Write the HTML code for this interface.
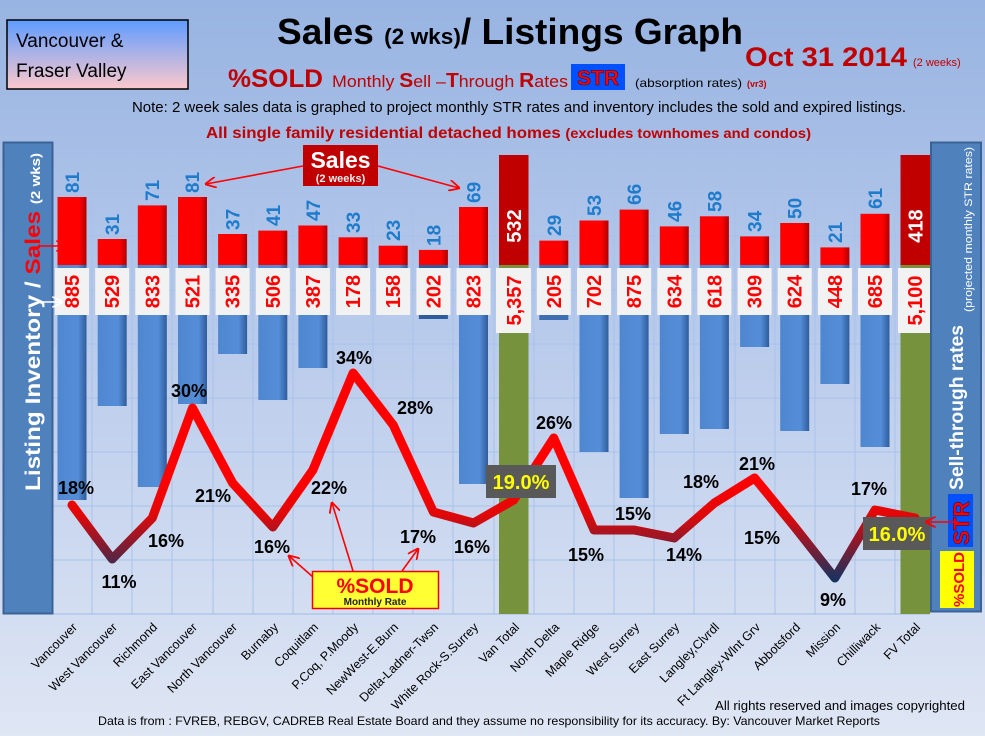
<!DOCTYPE html>
<html><head><meta charset="utf-8"><style>
html,body{margin:0;padding:0;}
body{width:985px;height:736px;overflow:hidden;}
svg{display:block;}
text{font-family:"Liberation Sans",sans-serif;}
</style></head><body>
<svg width="985" height="736" viewBox="0 0 985 736" xmlns="http://www.w3.org/2000/svg">
<defs>
<linearGradient id="bg" x1="0" y1="0" x2="0" y2="1">
<stop offset="0" stop-color="#98b4e2"/><stop offset="0.5" stop-color="#bccdec"/><stop offset="1" stop-color="#dfe6f4"/>
</linearGradient>
<linearGradient id="tl" x1="0" y1="0" x2="0" y2="1">
<stop offset="0" stop-color="#5f9cff"/><stop offset="1" stop-color="#fcc8cc"/>
</linearGradient>
<linearGradient id="blue" x1="0" y1="0" x2="1" y2="0">
<stop offset="0" stop-color="#4f86d0"/><stop offset="0.7" stop-color="#558ed8"/><stop offset="1" stop-color="#2f5c9c"/>
</linearGradient>
<linearGradient id="red" x1="0" y1="0" x2="1" y2="0">
<stop offset="0" stop-color="#ff0000"/><stop offset="0.75" stop-color="#ff0000"/><stop offset="1" stop-color="#b00000"/>
</linearGradient>
<linearGradient id="ln" gradientUnits="userSpaceOnUse" x1="0" y1="480" x2="0" y2="580">
<stop offset="0" stop-color="#ff0000"/><stop offset="0.35" stop-color="#e00808"/><stop offset="1" stop-color="#17325f"/>
</linearGradient>
<marker id="ar" viewBox="0 0 10 10" refX="9" refY="5" markerWidth="7" markerHeight="7" orient="auto"><path d="M0,0 L10,5 L0,10" fill="none" stroke="#f00" stroke-width="1.6"/></marker>
<marker id="aw" viewBox="0 0 10 10" refX="9" refY="5" markerWidth="7" markerHeight="7" orient="auto"><path d="M0,0 L10,5 L0,10" fill="none" stroke="#fff" stroke-width="1.6"/></marker>
</defs>
<rect width="985" height="736" fill="url(#bg)"/>

<!-- grid -->
<g stroke="#a8c2ea" stroke-width="1">
<line x1="52" y1="182" x2="930" y2="182"/><line x1="52" y1="236" x2="930" y2="236"/><line x1="52" y1="290" x2="930" y2="290"/><line x1="52" y1="344" x2="930" y2="344"/><line x1="52" y1="398" x2="930" y2="398"/><line x1="52" y1="452" x2="930" y2="452"/><line x1="52" y1="506" x2="930" y2="506"/><line x1="52" y1="560" x2="930" y2="560"/>
<line x1="92" y1="150" x2="92" y2="614"/><line x1="132" y1="150" x2="132" y2="614"/><line x1="172" y1="150" x2="172" y2="614"/><line x1="213" y1="150" x2="213" y2="614"/><line x1="253" y1="150" x2="253" y2="614"/><line x1="293" y1="150" x2="293" y2="614"/><line x1="333" y1="150" x2="333" y2="614"/><line x1="373" y1="150" x2="373" y2="614"/><line x1="413" y1="150" x2="413" y2="614"/><line x1="453" y1="150" x2="453" y2="614"/><line x1="494" y1="150" x2="494" y2="614"/><line x1="534" y1="150" x2="534" y2="614"/><line x1="574" y1="150" x2="574" y2="614"/><line x1="614" y1="150" x2="614" y2="614"/><line x1="654" y1="150" x2="654" y2="614"/><line x1="694" y1="150" x2="694" y2="614"/><line x1="735" y1="150" x2="735" y2="614"/><line x1="775" y1="150" x2="775" y2="614"/><line x1="815" y1="150" x2="815" y2="614"/><line x1="855" y1="150" x2="855" y2="614"/><line x1="895" y1="150" x2="895" y2="614"/>
<line x1="52" y1="614" x2="930" y2="614" stroke="#9fbbe6"/>
</g>

<!-- blue bars -->
<g fill="url(#blue)">
<rect x="57.5" y="265" width="29" height="235"/>
<rect x="97.7" y="265" width="29" height="141"/>
<rect x="137.8" y="265" width="29" height="222"/>
<rect x="178" y="265" width="29" height="139"/>
<rect x="218.1" y="265" width="29" height="89"/>
<rect x="258.3" y="265" width="29" height="135"/>
<rect x="298.4" y="265" width="29" height="103"/>
<rect x="338.6" y="265" width="29" height="47"/>
<rect x="378.7" y="265" width="29" height="42"/>
<rect x="418.9" y="265" width="29" height="54" fill="#2f5c9c"/>
<rect x="459" y="265" width="29" height="219"/>
<rect x="539.3" y="265" width="29" height="55" fill="#3d6fb2"/>
<rect x="579.5" y="265" width="29" height="187"/>
<rect x="619.6" y="265" width="29" height="233"/>
<rect x="659.8" y="265" width="29" height="169"/>
<rect x="699.9" y="265" width="29" height="164"/>
<rect x="740.1" y="265" width="29" height="82"/>
<rect x="780.2" y="265" width="29" height="166"/>
<rect x="820.4" y="265" width="29" height="119"/>
<rect x="860.5" y="265" width="29" height="182"/>
</g>
<!-- totals -->
<rect x="499" y="265" width="29.5" height="349" fill="#76923c"/>
<rect x="499" y="155" width="29.5" height="110" fill="#c00000"/>
<rect x="900.5" y="265" width="29.5" height="349" fill="#76923c"/>
<rect x="900.5" y="155" width="29.5" height="110" fill="#c00000"/>

<!-- red bars -->
<g fill="url(#red)">
<rect x="57.5" y="197" width="29" height="68"/>
<rect x="97.7" y="239" width="29" height="26"/>
<rect x="137.8" y="205.4" width="29" height="59.6"/>
<rect x="178" y="197" width="29" height="68"/>
<rect x="218.1" y="234" width="29" height="31"/>
<rect x="258.3" y="230.6" width="29" height="34.4"/>
<rect x="298.4" y="225.5" width="29" height="39.5"/>
<rect x="338.6" y="237.3" width="29" height="27.7"/>
<rect x="378.7" y="245.7" width="29" height="19.3"/>
<rect x="418.9" y="249.9" width="29" height="15.1"/>
<rect x="459" y="207" width="29" height="58"/>
<rect x="539.3" y="240.6" width="29" height="24.4"/>
<rect x="579.5" y="220.5" width="29" height="44.5"/>
<rect x="619.6" y="209.6" width="29" height="55.4"/>
<rect x="659.8" y="226.4" width="29" height="38.6"/>
<rect x="699.9" y="216.3" width="29" height="48.7"/>
<rect x="740.1" y="236.4" width="29" height="28.6"/>
<rect x="780.2" y="223" width="29" height="42"/>
<rect x="820.4" y="247.4" width="29" height="17.6"/>
<rect x="860.5" y="213.8" width="29" height="51.2"/>
</g>

<!-- sales labels -->
<g fill="#1f7ccc" font-weight="bold" font-size="19">
<text transform="translate(79,193) rotate(-90)">81</text>
<text transform="translate(119,235) rotate(-90)">31</text>
<text transform="translate(159,201) rotate(-90)">71</text>
<text transform="translate(199,193) rotate(-90)">81</text>
<text transform="translate(239.6,230) rotate(-90)">37</text>
<text transform="translate(279.8,226) rotate(-90)">41</text>
<text transform="translate(319.9,221) rotate(-90)">47</text>
<text transform="translate(360,233) rotate(-90)">33</text>
<text transform="translate(400.2,241) rotate(-90)">23</text>
<text transform="translate(440.4,246) rotate(-90)">18</text>
<text transform="translate(480.5,203) rotate(-90)">69</text>
<text transform="translate(560.8,236) rotate(-90)">29</text>
<text transform="translate(601,216) rotate(-90)">53</text>
<text transform="translate(641.1,205) rotate(-90)">66</text>
<text transform="translate(681.3,222) rotate(-90)">46</text>
<text transform="translate(721.4,212) rotate(-90)">58</text>
<text transform="translate(761.6,232) rotate(-90)">34</text>
<text transform="translate(801.7,219) rotate(-90)">50</text>
<text transform="translate(841.9,243) rotate(-90)">21</text>
<text transform="translate(882,209) rotate(-90)">61</text>
</g>
<g fill="#fff" font-weight="bold" font-size="20" text-anchor="middle">
<text transform="translate(521,226) rotate(-90)">532</text>
<text transform="translate(922.5,226) rotate(-90)">418</text>
</g>

<!-- inventory label boxes -->
<g fill="#f2f2f2">
<rect x="55" y="268" width="34" height="47"/><rect x="95.2" y="268" width="34" height="47"/><rect x="135.3" y="268" width="34" height="47"/><rect x="175.5" y="268" width="34" height="47"/><rect x="215.6" y="268" width="34" height="47"/><rect x="255.8" y="268" width="34" height="47"/><rect x="295.9" y="268" width="34" height="47"/><rect x="336.1" y="268" width="34" height="47"/><rect x="376.2" y="268" width="34" height="47"/><rect x="416.4" y="268" width="34" height="47"/><rect x="456.5" y="268" width="34" height="47"/>
<rect x="496" y="268" width="35" height="65"/>
<rect x="536.8" y="268" width="34" height="47"/><rect x="577" y="268" width="34" height="47"/><rect x="617.1" y="268" width="34" height="47"/><rect x="657.3" y="268" width="34" height="47"/><rect x="697.4" y="268" width="34" height="47"/><rect x="737.6" y="268" width="34" height="47"/><rect x="777.7" y="268" width="34" height="47"/><rect x="817.9" y="268" width="34" height="47"/><rect x="858" y="268" width="34" height="47"/>
<rect x="898" y="268" width="34" height="65"/>
</g>
<g fill="#ff0000" font-weight="bold" font-size="20" text-anchor="middle">
<text transform="translate(79,291.5) rotate(-90)">885</text>
<text transform="translate(119.2,291.5) rotate(-90)">529</text>
<text transform="translate(159.3,291.5) rotate(-90)">833</text>
<text transform="translate(199.5,291.5) rotate(-90)">521</text>
<text transform="translate(239.6,291.5) rotate(-90)">335</text>
<text transform="translate(279.8,291.5) rotate(-90)">506</text>
<text transform="translate(319.9,291.5) rotate(-90)">387</text>
<text transform="translate(360.1,291.5) rotate(-90)">178</text>
<text transform="translate(400.2,291.5) rotate(-90)">158</text>
<text transform="translate(440.4,291.5) rotate(-90)">202</text>
<text transform="translate(480.5,291.5) rotate(-90)">823</text>
<text transform="translate(521,300.5) rotate(-90)">5,357</text>
<text transform="translate(560.8,291.5) rotate(-90)">205</text>
<text transform="translate(601,291.5) rotate(-90)">702</text>
<text transform="translate(641.1,291.5) rotate(-90)">875</text>
<text transform="translate(681.3,291.5) rotate(-90)">634</text>
<text transform="translate(721.4,291.5) rotate(-90)">618</text>
<text transform="translate(761.6,291.5) rotate(-90)">309</text>
<text transform="translate(801.7,291.5) rotate(-90)">624</text>
<text transform="translate(841.9,291.5) rotate(-90)">448</text>
<text transform="translate(882,291.5) rotate(-90)">685</text>
<text transform="translate(922,300.5) rotate(-90)">5,100</text>
</g>

<!-- line -->
<polyline points="72,505 112.2,559 152.3,518 192.5,408 232.6,483 272.8,527 312.9,470 353.1,373 393.2,425 433.4,512 473.5,523 513.7,500 553.8,438 594,530 634.1,530 674.3,538 714.4,503 754.6,478 794.7,527 834.9,578 875,510 915.2,518" fill="none" stroke="url(#ln)" stroke-width="9" stroke-linejoin="round" stroke-linecap="round"/>

<!-- percent labels -->
<g fill="#000" font-weight="bold" font-size="18" text-anchor="middle" dominant-baseline="central">
<text x="76" y="488">18%</text><text x="119" y="582">11%</text><text x="166" y="541">16%</text><text x="189" y="391">30%</text><text x="213" y="496">21%</text><text x="272" y="547">16%</text><text x="329" y="488">22%</text><text x="354" y="358">34%</text><text x="415" y="408">28%</text><text x="418" y="537">17%</text><text x="472" y="547">16%</text>
<text x="554" y="423">26%</text><text x="586" y="555">15%</text><text x="633" y="514">15%</text><text x="684" y="555">14%</text><text x="701" y="482">18%</text><text x="757" y="464">21%</text><text x="762" y="538">15%</text><text x="833" y="600">9%</text><text x="869" y="489">17%</text>
</g>
<rect x="486" y="465" width="70" height="33" fill="#595959"/>
<text x="521" y="489" fill="#ffff00" font-weight="bold" font-size="20" text-anchor="middle">19.0%</text>
<rect x="863" y="517" width="67" height="33" fill="#595959"/>
<text x="897" y="541" fill="#ffff00" font-weight="bold" font-size="20" text-anchor="middle">16.0%</text>

<!-- annotations -->
<g stroke="#f00" stroke-width="1.6" fill="none">
<line x1="313" y1="577" x2="289" y2="556" marker-end="url(#ar)"/>
<line x1="353" y1="571" x2="332" y2="503" marker-end="url(#ar)"/>
<line x1="402" y1="571" x2="418" y2="549" marker-end="url(#ar)"/>
<line x1="303" y1="166" x2="206" y2="184" marker-end="url(#ar)"/>
<line x1="378" y1="166" x2="459" y2="188" marker-end="url(#ar)"/>
</g>
<rect x="312.5" y="571.5" width="126" height="37" fill="#ffff33" stroke="#e00" stroke-width="1.5"/>
<text x="375" y="593" fill="#f00" font-weight="bold" font-size="21" text-anchor="middle">%SOLD</text>
<text x="375" y="605" fill="#222" font-weight="bold" font-size="10" text-anchor="middle">Monthly Rate</text>
<rect x="303" y="145" width="75" height="41" fill="#c00000"/>
<text x="340.5" y="168" fill="#fff" font-weight="bold" font-size="23" text-anchor="middle">Sales</text>
<text x="340.5" y="182" fill="#eee" font-weight="bold" font-size="11" text-anchor="middle">(2 weeks)</text>

<!-- left panel -->
<rect x="3.5" y="142.5" width="49" height="471" fill="#4f81bd" stroke="#3b6296" stroke-width="2"/>
<text transform="translate(40,491) rotate(-90)" font-weight="bold" font-size="21" fill="#fff" textLength="338" lengthAdjust="spacingAndGlyphs">Listing Inventory / <tspan fill="#ff0000">Sales</tspan> <tspan font-size="13" fill="#fff">(2  wks)</tspan></text>
<line x1="38" y1="246" x2="66" y2="246" stroke="#f00" stroke-width="1.6" marker-end="url(#ar)"/>
<line x1="38" y1="302" x2="62" y2="302" stroke="#fff" stroke-width="1.6" marker-end="url(#aw)"/>

<!-- right panel -->
<rect x="931" y="142.5" width="50" height="469" fill="#4f81bd" stroke="#3b6296" stroke-width="2"/>
<text transform="translate(963,490) rotate(-90)" font-weight="bold" font-size="19" fill="#fff" textLength="165" lengthAdjust="spacingAndGlyphs">Sell-through rates</text>
<text transform="translate(972,312) rotate(-90)" font-size="11" fill="#fff" textLength="165" lengthAdjust="spacingAndGlyphs">(projected monthly STR rates)</text>
<rect x="948" y="494" width="25" height="53" fill="#0050ff"/>
<text transform="translate(969,545) rotate(-90)" font-weight="bold" font-size="22" fill="#ff0000" stroke="#400" stroke-width="0.5">STR</text>
<rect x="940" y="551" width="34" height="57" fill="#ffff00"/>
<text transform="translate(964,607) rotate(-90)" font-weight="bold" font-size="15" fill="#ff0000">%SOLD</text>
<line x1="958" y1="522" x2="926" y2="522" stroke="#f00" stroke-width="1.6" marker-end="url(#ar)"/>

<!-- x labels -->
<g font-size="12.5" fill="#000" text-anchor="end">
<text transform="translate(78,628) rotate(-45)">Vancouver</text>
<text transform="translate(118,628) rotate(-45)">West Vancouver</text>
<text transform="translate(158,628) rotate(-45)">Richmond</text>
<text transform="translate(198,628) rotate(-45)">East Vancouver</text>
<text transform="translate(238,628) rotate(-45)">North Vancouver</text>
<text transform="translate(279,628) rotate(-45)">Burnaby</text>
<text transform="translate(319,628) rotate(-45)">Coquitlam</text>
<text transform="translate(359,628) rotate(-45)">P.Coq, P.Moody</text>
<text transform="translate(399,628) rotate(-45)">NewWest-E.Burn</text>
<text transform="translate(439,628) rotate(-45)">Delta-Ladner-Twsn</text>
<text transform="translate(479,628) rotate(-45)">White Rock-S.Surrey</text>
<text transform="translate(520,628) rotate(-45)">Van Total</text>
<text transform="translate(560,628) rotate(-45)">North Delta</text>
<text transform="translate(600,628) rotate(-45)">Maple Ridge</text>
<text transform="translate(640,628) rotate(-45)">West Surrey</text>
<text transform="translate(680,628) rotate(-45)">East Surrey</text>
<text transform="translate(720,628) rotate(-45)">Langley,Clvrdl</text>
<text transform="translate(761,628) rotate(-45)">Ft Langley-Wlnt Grv</text>
<text transform="translate(801,628) rotate(-45)">Abbotsford</text>
<text transform="translate(841,628) rotate(-45)">Mission</text>
<text transform="translate(881,628) rotate(-45)">Chilliwack</text>
<text transform="translate(921,628) rotate(-45)">FV Total</text>
</g>
<text x="715" y="710" font-size="12.5" fill="#000" textLength="250" lengthAdjust="spacingAndGlyphs">All rights reserved and  images copyrighted</text>
<text x="98" y="725" font-size="12" fill="#000" textLength="782" lengthAdjust="spacingAndGlyphs">Data is from : FVREB, REBGV, CADREB Real Estate Board and they assume no responsibility for its accuracy. By: Vancouver Market Reports</text>

<!-- header -->
<rect x="7" y="20" width="181" height="69" fill="url(#tl)" stroke="#000" stroke-width="1.5"/>
<text x="16" y="47" font-size="19" fill="#000">Vancouver &amp;</text>
<text x="16" y="77" font-size="19" fill="#000">Fraser Valley</text>
<text x="277" y="44" font-weight="bold" font-size="36" fill="#000" textLength="466" lengthAdjust="spacingAndGlyphs">Sales <tspan font-size="22">(2 wks)</tspan>/ Listings Graph</text>
<text x="745" y="66" font-weight="bold" font-size="27" fill="#c00000" textLength="162" lengthAdjust="spacingAndGlyphs">Oct 31 2014</text>
<text x="913" y="66" font-size="11" fill="#c00000">(2 weeks)</text>
<text x="228" y="87" font-weight="bold" font-size="25" fill="#c00000" textLength="95" lengthAdjust="spacingAndGlyphs">%SOLD</text>
<text x="332" y="87" font-size="17" fill="#c00000" textLength="236" lengthAdjust="spacingAndGlyphs">Monthly <tspan font-weight="bold" font-size="20">S</tspan>ell –<tspan font-weight="bold" font-size="20">T</tspan>hrough <tspan font-weight="bold" font-size="20">R</tspan>ates</text>
<rect x="571" y="64" width="54" height="26" fill="#0050ff"/>
<text x="598" y="85" font-weight="bold" font-size="21" fill="#ff0000" text-anchor="middle" stroke="#400" stroke-width="0.5">STR</text>
<text x="635" y="87" font-size="12" fill="#000" textLength="107" lengthAdjust="spacingAndGlyphs">(absorption rates)</text>
<text x="747" y="87" font-size="9" font-weight="bold" fill="#c00000">(vr3)</text>
<text x="132" y="112" font-size="15" fill="#000" textLength="774" lengthAdjust="spacingAndGlyphs">Note: 2 week sales data is graphed to project monthly STR rates and inventory includes the sold and expired listings.</text>
<text x="206" y="138" font-weight="bold" font-size="16" fill="#c00000" textLength="605" lengthAdjust="spacingAndGlyphs">All single family residential detached homes <tspan font-size="14">(excludes townhomes and condos)</tspan></text>
</svg>
</body></html>
